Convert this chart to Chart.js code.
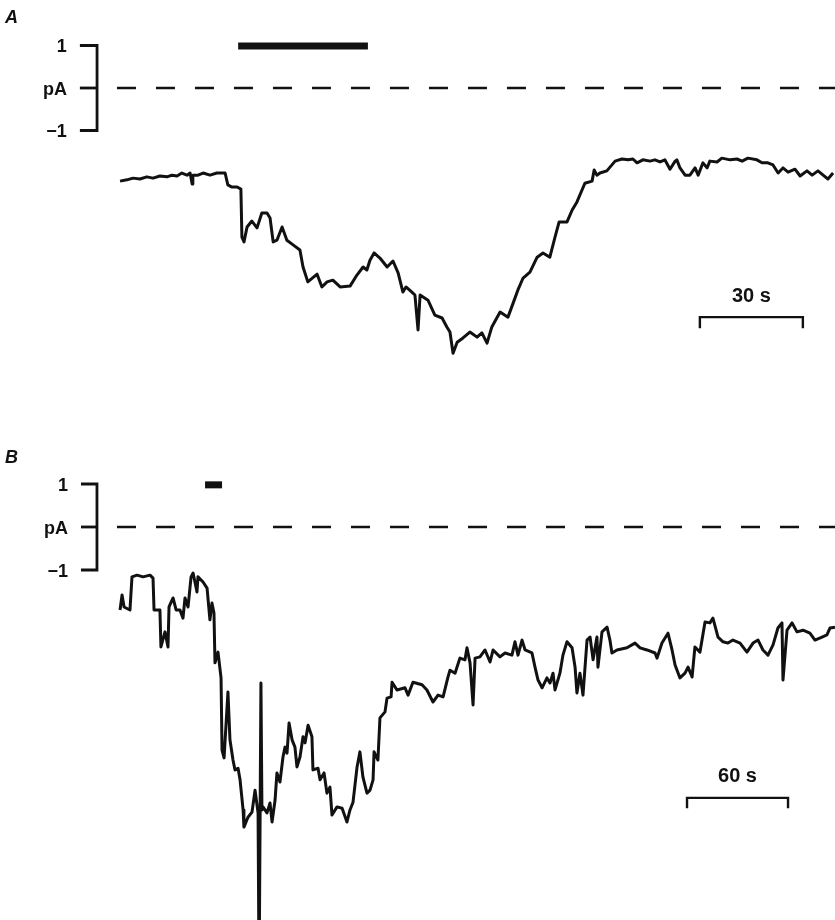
<!DOCTYPE html>
<html lang="en">
  <head>
    <meta charset="UTF-8" />
    <title>Current traces</title>
    <script src="https://cdn.jsdelivr.net/npm/chart.js"></script>
    <style>
      body { margin: 0; background: #fff; }
      .wrap { position: relative; width: 835px; height: 920px; }
      canvas { position: absolute; left: 0; }
      #chartA { top: 0; }
      #chartB { top: 440px; }
    </style>
  </head>
  <body>
    <div class="wrap">
      <canvas id="chartA" width="835" height="440"></canvas>
      <canvas id="chartB" width="835" height="480"></canvas>
    </div>

    <script>
      // Panel A: time (s) and current (pA)
      const timeA = [0.6, 2.6, 4.4, 6.4, 8.4, 10.2, 12.2, 14.3, 15.7, 17.2, 18.6, 20.1, 21.0, 21.6, 21.8, 23.3, 24.8, 26.8, 28.8, 30.3,
        31.2, 32.0, 33.2, 34.7, 35.8,
        36.1, 36.7, 37.6, 39.0, 40.5, 41.9, 43.4, 44.3, 45.2, 46.3, 47.8, 49.2, 51.0, 53.0, 53.9, 55.3, 58.0, 59.4, 60.9, 62.6,
        64.7, 67.6, 69.6, 71.4, 72.5, 73.4, 74.6, 76.3, 78.4, 80.1, 81.6, 83.0, 83.9, 85.6, 86.5, 87.4, 88.0, 90.3, 92.3, 94.4,
        95.8, 96.7, 97.6, 98.8, 100.5, 102.5, 104.6, 106.0, 107.5, 108.9, 111.3, 113.6, 115.1, 116.5, 118.0, 120.0, 122.1, 123.8, 125.8, 127.3,
        128.5, 130.8, 132.3, 133.7, 136.0,
        138.1, 138.7, 139.5, 140.4, 142.4, 144.8, 146.8, 148.6, 150.0, 151.2, 152.9, 155.0, 156.4, 157.9, 159.3, 160.8, 162.3, 162.8, 163.7, 165.2,
        166.6, 168.1, 169.0, 170.4, 171.6, 172.4, 174.5, 175.9, 178.3, 180.3, 181.8, 183.5, 186.1, 187.6, 189.3, 190.8, 192.3, 193.7, 195.2, 197.2,
        198.7, 200.7, 202.2, 203.9, 205.4, 206.8, 208.3];
      const currentA = [-2.19, -2.16, -2.12, -2.14, -2.09, -2.12, -2.07, -2.09, -2.05, -2.07, -2.00, -2.05, -2.00, -2.26, -2.05, -2.05, -2.00, -2.05, -2.00, -2.00,
        -2.00, -2.28, -2.33, -2.33, -2.38,
        -3.51, -3.62, -3.27, -3.13, -3.29, -2.94, -2.94, -3.06, -3.62, -3.58, -3.27, -3.58, -3.69, -3.81, -4.21, -4.56, -4.38, -4.68, -4.56, -4.52,
        -4.68, -4.66, -4.40, -4.21, -4.28, -4.05, -3.88, -4.00, -4.21, -4.07, -4.35, -4.80, -4.68, -4.80, -4.87, -5.69, -4.87, -4.99, -5.34, -5.41,
        -5.62, -5.74, -6.24, -5.98, -5.88, -5.74, -5.86, -5.76, -6.00, -5.62, -5.27, -5.39, -5.06, -4.75, -4.47, -4.33, -3.98, -3.88, -3.98, -3.51,
        -3.15, -3.15, -2.87, -2.68, -2.24,
        -2.19, -1.93, -2.05, -2.00, -1.95, -1.72, -1.67, -1.69, -1.67, -1.76, -1.69, -1.72, -1.69, -1.74, -1.69, -1.91, -1.72, -1.69, -1.88, -2.05,
        -2.05, -1.88, -2.05, -1.76, -1.88, -1.72, -1.74, -1.65, -1.69, -1.67, -1.72, -1.65, -1.69, -1.76, -1.76, -1.81, -2.00, -1.88, -1.98, -1.91,
        -2.07, -1.95, -2.05, -1.95, -2.05, -2.14, -2.00];

      // Panel B: time (s) and current (pA)
      const timeB = [1.2, 2.4, 3.6, 7.1, 8.3, 11.3, 14.9, 19.0, 20.8, 21.4, 24.9, 25.5, 27.9, 29.7, 30.3, 32.7, 34.5, 36.8, 38.6, 39.8,
        41.6, 43.4, 44.6, 46.9, 47.5, 50.5, 52.9, 54.6, 55.8, 57.0, 57.6, 59.4, 61.2, 61.8, 63.0, 65.3, 66.5, 68.3, 69.5, 71.3,
        72.5, 74.3, 74.8, 77.2, 79.6, 81.4, 83.2, 83.8, 84.9, 85.5, 86.1, 88.5, 90.3, 91.5, 93.3, 94.4, 96.2, 98.0, 99.2, 100.4,
        101.6, 103.4, 105.1, 106.3, 108.1, 109.9, 111.1, 112.9, 115.2, 115.8, 118.8, 120.0, 122.4, 124.1, 125.9, 127.1, 130.1, 133.1, 136.0, 137.8,
        139.6, 142.0, 143.7, 145.5, 147.9, 149.7, 151.5, 152.1, 154.4, 155.6, 158.6, 159.8, 162.2, 162.8, 165.7, 170.5, 172.3, 175.2, 180.6, 183.5,
        187.1, 190.1, 193.1, 196.0, 197.2, 200.2, 203.1, 206.1, 207.3, 209.1, 210.9, 212.1, 215.0, 218.0, 221.0, 222.8, 226.9, 229.9, 234.0, 235.8,
        237.6, 240.0, 241.8, 245.9, 247.7, 249.5, 251.9, 254.8, 256.6, 258.4, 259.6, 262.5, 264.3, 266.7, 269.7, 271.5, 272.6, 274.4, 276.2, 278.6,
        280.4, 282.2, 284.5, 285.1, 287.5, 290.5, 292.2, 293.4, 296.4, 302.3, 307.1, 310.1, 314.2, 319.0, 320.2, 323.1, 326.7, 329.1, 330.9, 333.8,
        336.8, 338.6, 341.0, 342.7, 345.7, 348.7, 351.6, 353.4, 356.4, 359.4, 362.3, 365.3, 369.5, 373.6, 377.2, 380.2, 383.1, 386.1, 389.1, 392.0,
        394.4, 395.0, 397.4, 400.4, 403.3, 406.9, 411.0, 414.0, 418.2, 421.1, 422.9, 425.9];
      const currentB = [-1.93, -1.58, -1.86, -1.93, -1.16, -1.12, -1.16, -1.12, -1.19, -1.93, -1.93, -2.79, -2.44, -2.79, -1.86, -1.65, -1.93, -1.93, -2.12, -1.65,
        -1.86, -1.16, -1.07, -1.51, -1.16, -1.28, -1.42, -2.16, -1.77, -2.00, -3.16, -2.91, -3.51, -5.19, -5.37, -3.84, -4.95, -5.42, -5.65, -5.61,
        -5.88, -6.58, -6.98, -6.75, -6.63, -6.12, -6.65, -10.5, -3.63, -6.58, -6.51, -6.65, -6.42, -6.86, -6.35, -5.72, -5.93, -5.35, -5.12, -5.26,
        -4.56, -4.95, -5.12, -5.58, -5.35, -4.88, -5.02, -4.61, -4.88, -5.65, -5.61, -5.88, -5.72, -6.19, -6.05, -6.70, -6.51, -6.54, -6.86, -6.58,
        -6.40, -5.58, -5.23, -5.82, -6.19, -6.12, -5.88, -5.23, -5.42, -4.44, -4.30, -3.98, -3.95, -3.61, -3.79, -3.74, -3.91, -3.61, -3.67, -3.79,
        -4.07, -3.91, -3.95, -3.49, -3.33, -3.40, -3.05, -3.09, -2.81, -3.16, -4.14, -3.05, -3.02, -2.86, -3.14, -2.86, -3.02, -2.93, -2.98, -2.67,
        -2.98, -2.63, -2.86, -2.93, -3.26, -3.56, -3.74, -3.51, -3.63, -3.40, -3.79, -3.40, -2.98, -2.67, -2.81, -3.26, -3.86, -3.40, -3.91, -2.63,
        -2.56, -3.09, -2.56, -3.26, -2.44, -2.33, -2.63, -2.93, -2.86, -2.81, -2.70, -2.81, -2.86, -2.93, -3.05, -2.70, -2.47, -2.86, -3.21, -3.51,
        -3.40, -3.26, -3.49, -2.79, -2.91, -2.21, -2.23, -2.12, -2.56, -2.67, -2.70, -2.63, -2.70, -2.91, -2.70, -2.63, -2.86, -2.98, -2.74, -2.35,
        -2.23, -3.56, -2.40, -2.23, -2.44, -2.40, -2.47, -2.63, -2.56, -2.51, -2.35, -2.33];

      // drug application bars (start, end in s) and time scale bars
      const drugA = [35.0, 72.8];
      const drugB = [51.7, 61.8];
      const scaleTicks = [1, 0, -1];
      const scaleTickLabels = ["1", "pA", "\u22121"];
      const timeBarA = [169.5, 199.5];
      const timeBarB = [338.0, 398.0];

      const ink = "#111";

      function line(data, width, extra) {
        return Object.assign({
          data: data,
          borderColor: ink,
          borderWidth: width,
          pointRadius: 0,
          fill: false,
          tension: 0,
          borderCapStyle: "butt",
          borderJoinStyle: "miter",
        }, extra || {});
      }

      // text labels drawn through the chart scales
      const labelPlugin = {
        id: "labels",
        afterDatasetsDraw(chart, args, opts) {
          const ctx = chart.ctx;
          const x = chart.scales.x, y = chart.scales.y;
          ctx.save();
          ctx.fillStyle = ink;
          // panel letter
          ctx.font = "italic bold 18px 'Liberation Sans', Arial, sans-serif";
          ctx.textAlign = "left";
          ctx.textBaseline = "top";
          ctx.fillText(opts.letter, 5, opts.letterTop);
          // pA scale labels
          ctx.font = "bold 18px 'Liberation Sans', Arial, sans-serif";
          ctx.textAlign = "right";
          ctx.textBaseline = "middle";
          const lx = x.getPixelForValue(opts.bracket[0]) - 13;
          scaleTicks.forEach((v, i) => {
            ctx.fillText(scaleTickLabels[i], lx, y.getPixelForValue(v) + 2);
          });
          // time scale label
          ctx.font = "bold 20px 'Liberation Sans', Arial, sans-serif";
          ctx.textAlign = "center";
          ctx.textBaseline = "middle";
          const tx = (x.getPixelForValue(opts.timeBar[0]) + x.getPixelForValue(opts.timeBar[1])) / 2;
          ctx.fillText(opts.timeLabel, tx, y.getPixelForValue(opts.timeBarY) - 21);
          ctx.restore();
        },
      };

      function makePanel(id, o) {
        const trace = o.time.map((t, i) => ({ x: t, y: o.current[i] }));
        const b0 = o.bracket[0], b1 = o.bracket[1];
        const tb = o.timeBar, ty = o.timeBarY, tk = o.timeTick;
        return new Chart(document.getElementById(id), {
          type: "line",
          data: {
            datasets: [
              line(trace, 3, { borderJoinStyle: "round" }),
              line([{ x: o.dashStart, y: 0 }, { x: o.xMax + 5, y: 0 }], 2.5, { borderDash: [19, 20] }),
              line([{ x: o.drug[0], y: o.drugY }, { x: o.drug[1], y: o.drugY }], 7),
              line([{ x: b0, y: 1 }, { x: b1, y: 1 }, { x: b1, y: -1 }, { x: b0, y: -1 }], 2.8),
              line([{ x: b0, y: 0 }, { x: b1, y: 0 }], 2.8),
              line([{ x: tb[0], y: ty - tk }, { x: tb[0], y: ty }, { x: tb[1], y: ty }, { x: tb[1], y: ty - tk }], 2.4),
            ],
          },
          options: {
            responsive: false,
            animation: false,
            events: [],
            layout: { padding: 0 },
            plugins: {
              legend: { display: false },
              tooltip: { enabled: false },
              labels: {
                letter: o.letter,
                letterTop: o.letterTop,
                bracket: o.bracket,
                timeBar: tb,
                timeBarY: ty,
                timeLabel: o.timeLabel,
              },
            },
            scales: {
              x: { type: "linear", display: false, min: o.xMin, max: o.xMax },
              y: { type: "linear", display: false, min: o.yMin, max: o.yMax },
            },
          },
          plugins: [labelPlugin],
        });
      }

      makePanel("chartA", {
        time: timeA, current: currentA,
        xMin: -34.37, xMax: 208.86, yMin: -8.28, yMax: 2.07,
        dashStart: -0.3, drug: drugA, drugY: 0.99,
        bracket: [-11.1, -6.1],
        timeBar: timeBarA, timeBarY: -5.39, timeTick: 0.26, timeLabel: "30 s",
        letter: "A", letterTop: 9,
      });

      makePanel("chartB", {
        time: timeB, current: currentB,
        xMin: -70.1, xMax: 425.9, yMin: -9.14, yMax: 2.023,
        dashStart: -0.6, drug: drugB, drugY: 0.98,
        bracket: [-22.0, -12.5],
        timeBar: timeBarB, timeBarY: -6.30, timeTick: 0.24, timeLabel: "60 s",
        letter: "B", letterTop: 9,
      });
    </script>
  </body>
</html>
